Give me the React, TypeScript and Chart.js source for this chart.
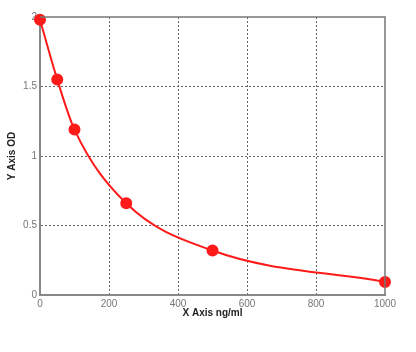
import React, { useEffect, useRef } from "react";
import { Chart, registerables } from "chart.js";

Chart.register(...registerables);

const concentrations = [0, 50, 100, 250, 500, 1000];
const odValues = [1.98, 1.55, 1.19, 0.66, 0.32, 0.094];
const xTickValues = [0, 200, 400, 600, 800, 1000];
const yTickValues = [0, 0.5, 1, 1.5, 2];
const xTitle = "X Axis ng/ml";
const yTitle = "Y Axis OD";

const framePlugin = {
  id: "frame",
  afterDraw(chart: any) {
    const { ctx, chartArea } = chart;
    ctx.save();
    ctx.strokeStyle = "#777";
    ctx.lineWidth = 1.5;
    ctx.setLineDash([]);
    ctx.beginPath();
    ctx.moveTo(chartArea.left, chartArea.top);
    ctx.lineTo(chartArea.right, chartArea.top);
    ctx.lineTo(chartArea.right, chartArea.bottom);
    ctx.stroke();
    ctx.restore();
  },
};

export default function App() {
  const ref = useRef<HTMLCanvasElement>(null);
  useEffect(() => {
    const chart = new Chart(ref.current!, {
      type: "line",
      data: {
        datasets: [
          {
            data: concentrations.map((x, i) => ({ x, y: odValues[i] })),
            borderColor: "#ff1a1a",
            backgroundColor: "#ff1a1a",
            borderWidth: 2,
            pointRadius: 5,
            pointHoverRadius: 5,
            cubicInterpolationMode: "monotone",
            clip: false as any,
          },
        ],
      },
      options: {
        animation: false,
        responsive: false,
        maintainAspectRatio: false,
        layout: { padding: { left: 6, top: 17, right: 31, bottom: 33 } },
        plugins: { legend: { display: false }, tooltip: { enabled: false } },
        scales: {
          x: {
            type: "linear",
            min: 0,
            max: 1000,
            afterBuildTicks: (s: any) => {
              s.ticks = xTickValues.map((v) => ({ value: v }));
            },
            afterFit: (s: any) => {
              s.height = 24;
            },
            grid: {
              color: (c: any) => (c.tick && (c.tick.value === 0 || c.tick.value === 1000) ? "rgba(0,0,0,0)" : "#666"),
              drawTicks: false,
              lineWidth: 1,
            },
            border: { display: true, color: "#888", width: 2, dash: [2, 2] },
            ticks: {
              padding: 3,
              color: "#777",
              font: { family: "Liberation Sans", size: 10 },
              maxRotation: 0,
              callback: (v: any) => String(v),
            },
            title: {
              display: true,
              text: xTitle,
              color: "#222",
              font: { family: "Liberation Sans", size: 10, weight: "bold" },
              padding: { top: 0, bottom: 0 },
            },
          },
          y: {
            type: "linear",
            min: 0,
            max: 2,
            afterBuildTicks: (s: any) => {
              s.ticks = yTickValues.map((v) => ({ value: v }));
            },
            afterFit: (s: any) => {
              s.width = 34;
            },
            grid: {
              color: (c: any) => (c.tick && (c.tick.value === 0 || c.tick.value === 2) ? "rgba(0,0,0,0)" : "#666"),
              drawTicks: false,
              lineWidth: 1,
            },
            border: { display: true, color: "#888", width: 2, dash: [2, 2] },
            ticks: {
              padding: 3,
              color: "#777",
              font: { family: "Liberation Sans", size: 10 },
              callback: (v: any) => String(v),
            },
            title: {
              display: true,
              text: yTitle,
              color: "#222",
              font: { family: "Liberation Sans", size: 10, weight: "bold" },
              padding: { top: 0, bottom: 0 },
            },
          },
        },
      } as any,
      plugins: [framePlugin],
    });
    return () => chart.destroy();
  }, []);
  return (
    <div style={{ position: "absolute", left: 0, top: 0, width: 416, height: 352, background: "#fff" }}>
      <canvas ref={ref} width={416} height={352} style={{ width: 416, height: 352 }} />
    </div>
  );
}
